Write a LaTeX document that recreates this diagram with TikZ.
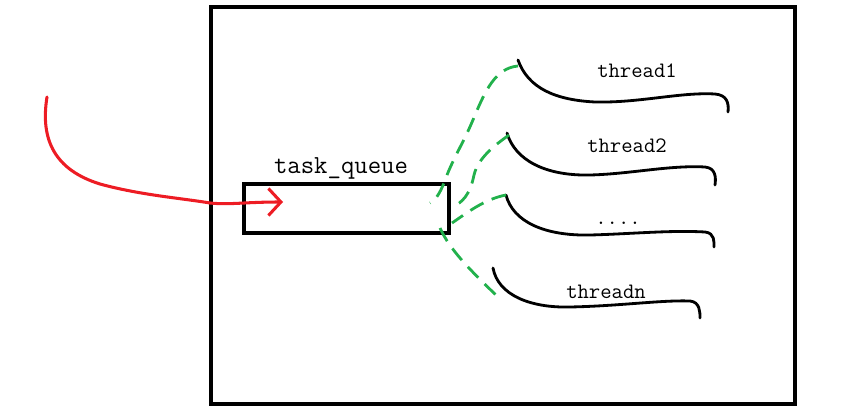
\documentclass[tikz,border=0pt]{standalone}
\usetikzlibrary{arrows.meta}
\definecolor{paintred}{RGB}{237,28,36}
\definecolor{paintgreen}{RGB}{34,177,76}
\tikzset{
  wave/.style={line width=2.4pt, line cap=round, line join=round},
  greendash/.style={paintgreen, line width=2.4pt, dash pattern=on 0.45cm off 0.27cm},
  threadtext/.style={anchor=base, inner sep=0pt, font=\fontsize{18.8}{20}\selectfont\ttfamily},
}
\begin{document}
\begin{tikzpicture}[x=0.03cm, y=-0.03cm]
		\useasboundingbox (0,0) rectangle (864,418);
		\node[draw, line width=3.4pt, minimum width=17.52cm, minimum height=11.91cm, inner sep=0pt] (frame) at (503,205.5) {};
		\node[draw, line width=3.4pt, minimum width=6.15cm, minimum height=1.47cm, inner sep=0pt] (queue) at (346.5,208.5) {};
		\node[anchor=base, inner sep=0pt, font=\fontsize{22.2}{24}\selectfont\ttfamily] (qlabel) at (341,173) {task\_queue};
		
		\coordinate (t1) at (518,60);
		\coordinate (t2) at (507,133);
		\coordinate (t3) at (506,195);
		\coordinate (tn) at (493,268);
		\coordinate (src) at (47,97);
		\coordinate (in) at (283,202);
		
		\draw[wave] (t1) .. controls (528,88) and (555,100) .. (595,102) .. controls (640,103) and (680,92) .. (715,94) .. controls (727,95) and (729,103) .. (728,112);
		\draw[wave] (t2) .. controls (515,160) and (545,176) .. (590,175) .. controls (630,174) and (670,165) .. (705,167) .. controls (716,168) and (716,178) .. (715,185);
		\draw[wave] (t3) .. controls (513,222) and (545,236) .. (590,235) .. controls (630,234) and (670,230) .. (705,232) .. controls (715,233) and (714,242) .. (714,247);
		\draw[wave] (tn) .. controls (498,295) and (530,308) .. (570,307) .. controls (620,306) and (660,300) .. (690,301) .. controls (700,302) and (700,312) .. (700,318);
		
		\node[threadtext] (th1) at (637,77) {thread1};
		\node[threadtext] (th2) at (627,152) {thread2};
		\node[threadtext] (thd) at (618,224) {....};
		\node[threadtext] (thn) at (606,298) {threadn};
		
		\draw[greendash] (518,66) .. controls (495,68) and (485,92) .. (475,115) .. controls (465,140) and (455,155) .. (447,175) .. controls (441,192) and (436,200) .. (430,203);
		\draw[greendash] (509,135) .. controls (495,145) and (478,158) .. (474,175) .. controls (470,195) and (462,203) .. (452,207);
		\draw[greendash] (t3) .. controls (485,199) and (468,212) .. (452,223);
		\draw[greendash] (440,228) .. controls (450,250) and (470,270) .. (498,297);
		
		\draw[paintred, line width=2.6pt, line cap=round, -{Straight Barb[length=0.375cm, width=0.81cm]}]
			(src) .. controls (40,140) and (55,170) .. (100,184) .. controls (140,195) and (180,198) .. (210,203) .. controls (230,205) and (245,202) .. (in);
	\end{tikzpicture}
\end{document}
